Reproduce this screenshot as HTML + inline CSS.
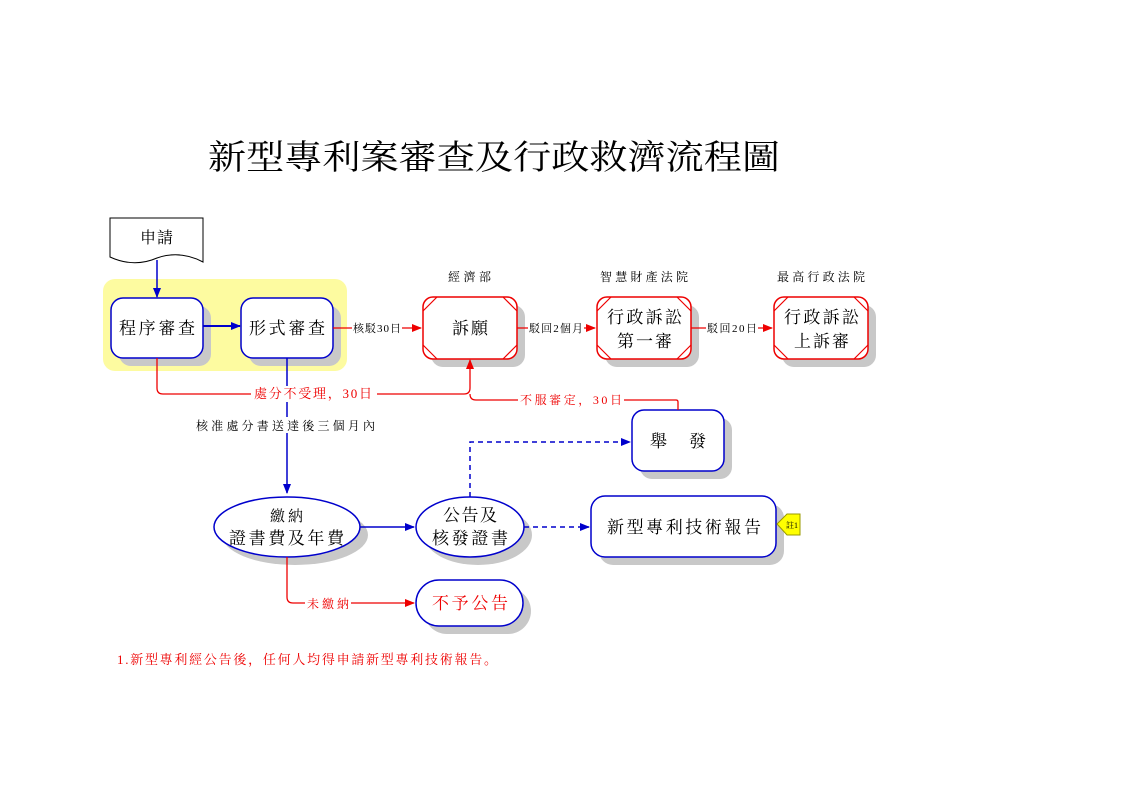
<!DOCTYPE html>
<html><head><meta charset="utf-8"><style>
html,body{margin:0;padding:0;background:#fff;}
svg{display:block;}
text{font-family:"Liberation Serif","Noto Serif CJK SC","Noto Sans CJK TC",serif;}
</style></head><body>
<svg width="1123" height="793" viewBox="0 0 1123 793" xmlns="http://www.w3.org/2000/svg">
<defs>
<marker id="ab" markerWidth="10" markerHeight="8" refX="9" refY="4" orient="auto" markerUnits="userSpaceOnUse"><path d="M0,0 L10,4 L0,8z" fill="#0000cc"/></marker>
<marker id="ar" markerWidth="10" markerHeight="8" refX="9" refY="4" orient="auto" markerUnits="userSpaceOnUse"><path d="M0,0 L10,4 L0,8z" fill="#ee0000"/></marker>
</defs>
<rect width="1123" height="793" fill="#fff"/>
<text x="208" y="169" font-size="34" textLength="572" lengthAdjust="spacingAndGlyphs">新型專利案審查及行政救濟流程圖</text>

<rect x="103" y="279" width="244" height="92" rx="12" fill="#fdfba0"/>

<path d="M110,218 H203 V262 Q180,250 157,258 Q134,268 110,257 Z" fill="#fff" stroke="#000" stroke-width="1"/>
<text x="140" y="243" font-size="16" textLength="33">申請</text>
<line x1="157" y1="260" x2="157" y2="297" stroke="#0000cc" stroke-width="1.5" marker-end="url(#ab)"/>

<g fill="#c8c8c8">
<rect x="119" y="306" width="92" height="60" rx="12"/>
<rect x="249" y="306" width="92" height="60" rx="12"/>
<rect x="431" y="305" width="94" height="62" rx="12"/>
<rect x="605" y="305" width="94" height="62" rx="12"/>
<rect x="782" y="305" width="94" height="62" rx="12"/>
<rect x="640" y="418" width="92" height="61" rx="12"/>
<rect x="599" y="504" width="185" height="61" rx="14"/>
<ellipse cx="295" cy="535" rx="73" ry="30"/>
<ellipse cx="478" cy="535" rx="54" ry="30"/>
<rect x="424" y="588" width="107" height="46" rx="23"/>
</g>

<g fill="#fff" stroke="#0000cc" stroke-width="1.5">
<rect x="111" y="298" width="92" height="60" rx="12"/>
<rect x="241" y="298" width="92" height="60" rx="12"/>
<rect x="632" y="410" width="92" height="61" rx="12"/>
<rect x="591" y="496" width="185" height="61" rx="14"/>
<ellipse cx="287" cy="527" rx="73" ry="30"/>
<ellipse cx="470" cy="527" rx="54" ry="30"/>
<rect x="416" y="580" width="107" height="46" rx="23"/>
</g>

<g fill="#fff" stroke="#ee0000" stroke-width="1.5">
<rect x="423" y="297" width="94" height="62" rx="10"/>
<rect x="597" y="297" width="94" height="62" rx="10"/>
<rect x="774" y="297" width="94" height="62" rx="10"/>
</g>
<g stroke="#ee0000" stroke-width="1.2">
<path d="M423,311 L437,297 M503,297 L517,311 M423,345 L437,359 M503,359 L517,345"/>
<path d="M597,311 L611,297 M677,297 L691,311 M597,345 L611,359 M677,359 L691,345"/>
<path d="M774,311 L788,297 M854,297 L868,311 M774,345 L788,359 M854,359 L868,345"/>
</g>

<g font-size="17">
<text x="119" y="334" textLength="76">程序審查</text>
<text x="249" y="334" textLength="76">形式審查</text>
<text x="452" y="334" textLength="36">訴願</text>
<text x="607" y="323" textLength="75">行政訴訟</text>
<text x="617" y="347" textLength="55">第一審</text>
<text x="784" y="323" textLength="75">行政訴訟</text>
<text x="794" y="347" textLength="55">上訴審</text>
<text x="650" y="447" textLength="56">舉　發</text>
<text x="607" y="533" textLength="154">新型專利技術報告</text>
<text x="270" y="521" font-size="15" textLength="33">繳納</text>
<text x="229" y="544" textLength="115">證書費及年費</text>
<text x="443" y="521" textLength="54">公告及</text>
<text x="432" y="544" textLength="76">核發證書</text>
<text x="432" y="609" fill="#ee0000" textLength="76">不予公告</text>
</g>
<g font-size="12">
<text x="448" y="281" textLength="43">經濟部</text>
<text x="600" y="281" textLength="88">智慧財產法院</text>
<text x="777" y="281" textLength="88">最高行政法院</text>
</g>

<line x1="203" y1="326" x2="240" y2="326" stroke="#0000cc" stroke-width="2" marker-end="url(#ab)"/>
<line x1="287" y1="358" x2="287" y2="493" stroke="#0000cc" stroke-width="1.5" marker-end="url(#ab)"/>
<rect x="190" y="417" width="195" height="16" fill="#fff"/>
<text x="196" y="430" font-size="12" textLength="179">核准處分書送達後三個月內</text>
<line x1="360" y1="527" x2="414" y2="527" stroke="#0000cc" stroke-width="1.5" marker-end="url(#ab)"/>
<line x1="524" y1="527" x2="589" y2="527" stroke="#0000cc" stroke-width="1.5" stroke-dasharray="5,4" marker-end="url(#ab)"/>
<path d="M470,497 V442 H630" fill="none" stroke="#0000cc" stroke-width="1.5" stroke-dasharray="5,4" marker-end="url(#ab)"/>

<line x1="333" y1="328" x2="421" y2="328" stroke="#ee0000" stroke-width="1.3" marker-end="url(#ar)"/>
<line x1="517" y1="328" x2="595" y2="328" stroke="#ee0000" stroke-width="1.3" marker-end="url(#ar)"/>
<line x1="691" y1="328" x2="772" y2="328" stroke="#ee0000" stroke-width="1.3" marker-end="url(#ar)"/>
<g font-size="11">
<rect x="352" y="320" width="50" height="15" fill="#fff"/><text x="353" y="332" textLength="48">核駁30日</text>
<rect x="528" y="320" width="56" height="15" fill="#fff"/><text x="529" y="332" textLength="54">駁回2個月</text>
<rect x="706" y="320" width="52" height="15" fill="#fff"/><text x="707" y="332" textLength="50">駁回20日</text>
</g>
<path d="M157,358 V388 Q157,394 163,394 H464 Q470,394 470,388 V360" fill="none" stroke="#ee0000" stroke-width="1.3" marker-end="url(#ar)"/>
<path d="M678,410 V402 Q678,400 676,400 H476 Q470,400 470,394" fill="none" stroke="#ee0000" stroke-width="1.3"/>
<rect x="251" y="386" width="126" height="16" fill="#fff"/>
<text x="254" y="398" font-size="13" fill="#ee0000" textLength="118">處分不受理，30日</text>
<rect x="518" y="392" width="106" height="15" fill="#fff"/>
<text x="520" y="404" font-size="12" fill="#ee0000" textLength="102">不服審定，30日</text>
<path d="M287,557 V597 Q287,603 293,603 H414" fill="none" stroke="#ee0000" stroke-width="1.3" marker-end="url(#ar)"/>
<rect x="305" y="596" width="46" height="15" fill="#fff"/>
<text x="307" y="608" font-size="12" fill="#ee0000" textLength="42">未繳納</text>

<path d="M777,524 L787,514 H800 V535 H787 Z" fill="#ffff00" stroke="#999900" stroke-width="1"/>
<text x="792" y="528" font-size="8" text-anchor="middle">註1</text>

<text x="117" y="664" font-size="13" fill="#ee0000" textLength="380">1.新型專利經公告後，任何人均得申請新型專利技術報告。</text>
</svg>
</body></html>
